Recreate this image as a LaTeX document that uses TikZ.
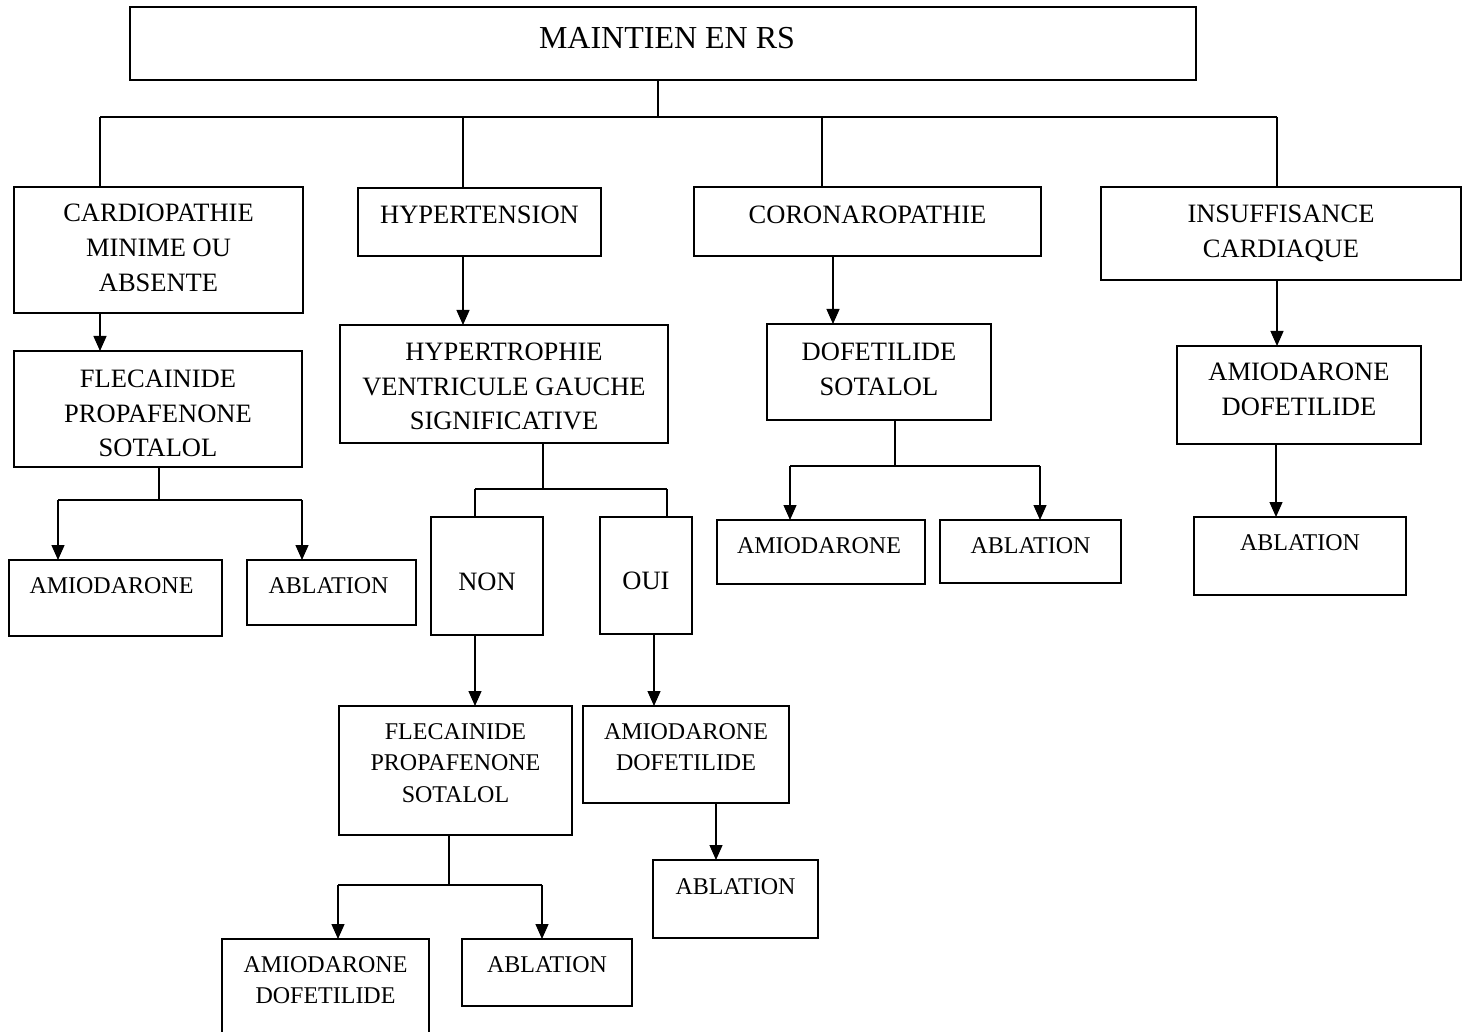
\documentclass[tikz,border=0pt]{standalone}
\usepackage{fontspec}
\setmainfont{Liberation Serif}
\usetikzlibrary{arrows.meta}
\tikzset{
  box/.style={draw, line width=1.3pt, inner sep=0pt, outer sep=0pt, anchor=north west},
  ln/.style={line width=1.3pt},
  arr/.style={line width=1.3pt, -{Triangle[length=15pt,width=13pt]}}
}
% [font size], name, x1, y1, width, height, top-to-first-baseline, text
\newcommand{\bx}[8][26.5]{\node[box, font=\fontsize{#1}{35}\selectfont] (#2) at (#3,#4) {\parbox[t][#6pt][t]{#5pt}{\centering\rule{0pt}{#7pt}#8}};}
\newcommand{\bxs}[7]{\node[box, font=\fontsize{24}{31.5}\selectfont] (#1) at (#2,#3) {\parbox[t][#5pt][t]{#4pt}{\centering\rule{0pt}{#6pt}#7}};}
\begin{document}
\begin{tikzpicture}[x=1pt,y=-1pt]
\fill[white] (0,0) rectangle (1470,1032);
\useasboundingbox (0,0) rectangle (1470,1032);

% top
\node[box, font=\fontsize{32}{35}\selectfont] (top) at (130,7) {\parbox[t][73pt][t]{1066pt}{\centering\hspace*{8pt}\rule{0pt}{42pt}MAINTIEN EN RS}};

% level 1
\bx{c1}{14}{187}{289}{126}{35}{CARDIOPATHIE\\MINIME OU\\ABSENTE}
\bx{hyp}{358}{188}{243}{68}{36}{HYPERTENSION}
\bx{cor}{694}{187}{347}{69}{37}{CORONAROPATHIE}
\bx{ins}{1101}{187}{360}{93}{36}{INSUFFISANCE\\CARDIAQUE}

% column 1
\bx{f1}{14}{351}{288}{116}{36}{FLECAINIDE\\PROPAFENONE\\SOTALOL}
\bx[24]{am1}{9}{560}{213}{76}{33}{\hspace*{-8pt}AMIODARONE}
\bx[24]{ab1}{247}{560}{169}{65}{33}{\hspace*{-6pt}ABLATION}

% column 2
\bx{hvg}{340}{325}{328}{118}{35}{HYPERTROPHIE\\VENTRICULE GAUCHE\\SIGNIFICATIVE}
\bx{non}{431}{517}{112}{118}{73}{NON}
\bx{oui}{600}{517}{92}{117}{72}{OUI}
\bxs{f2}{339}{706}{233}{129}{33}{FLECAINIDE\\PROPAFENONE\\SOTALOL}
\bxs{amd}{583}{706}{206}{97}{33}{AMIODARONE\\DOFETILIDE}
\bx[24]{abm}{653}{860}{165}{78}{34}{ABLATION}
\bxs{am2}{222}{939}{207}{100}{33}{AMIODARONE\\DOFETILIDE}
\bx[24]{ab2}{462}{939}{170}{67}{33}{ABLATION}

% column 3
\bx{ds}{767}{324}{224}{96}{36}{DOFETILIDE\\SOTALOL}
\bx[24]{am3}{717}{520}{208}{64}{33}{\hspace*{-4pt}AMIODARONE}
\bx[24]{ab3}{940}{520}{181}{63}{33}{ABLATION}

% column 4
\bx{am4}{1177}{346}{244}{98}{35}{AMIODARONE\\DOFETILIDE}
\bx[24]{ab4}{1194}{517}{212}{78}{33}{ABLATION}

% ---- connectors ----
\coordinate (j0) at (658,117);
\coordinate (b1) at (100,117);
\coordinate (b2) at (463,117);
\coordinate (b3) at (822,117);
\coordinate (b4) at (1277,117);
\draw[ln] (top.south -| j0) -- (j0);
\draw[ln] (b1) -- (b4);
\draw[ln] (b1) -- (b1 |- c1.north);
\draw[ln] (b2) -- (b2 |- hyp.north);
\draw[ln] (b3) -- (b3 |- cor.north);
\draw[ln] (b4) -- (b4 |- ins.north);

% column 1
\draw[arr] (b1 |- c1.south) -- (b1 |- f1.north);
\coordinate (k1) at (159,500);
\coordinate (k1a) at (58,500);
\coordinate (k1b) at (302,500);
\draw[ln] (k1 |- f1.south) -- (k1);
\draw[ln] (k1a) -- (k1b);
\draw[arr] (k1a) -- (k1a |- am1.north);
\draw[arr] (k1b) -- (k1b |- ab1.north);

% column 2
\draw[arr] (b2 |- hyp.south) -- (b2 |- hvg.north);
\coordinate (k2) at (543,489);
\coordinate (k2a) at (475,489);
\coordinate (k2b) at (667,489);
\draw[ln] (k2 |- hvg.south) -- (k2);
\draw[ln] (k2a) -- (k2b);
\draw[ln] (k2a) -- (k2a |- non.north);
\draw[ln] (k2b) -- (k2b |- oui.north);
\draw[arr] (k2a |- non.south) -- (k2a |- f2.north);
\coordinate (x2) at (654,0);
\draw[arr] (x2 |- oui.south) -- (x2 |- amd.north);
\coordinate (x3) at (716,0);
\draw[arr] (x3 |- amd.south) -- (x3 |- abm.north);
\coordinate (k3) at (449,885);
\coordinate (k3a) at (338,885);
\coordinate (k3b) at (542,885);
\draw[ln] (k3 |- f2.south) -- (k3);
\draw[ln] (k3a) -- (k3b);
\draw[arr] (k3a) -- (k3a |- am2.north);
\draw[arr] (k3b) -- (k3b |- ab2.north);

% column 3
\coordinate (x4) at (833,0);
\draw[arr] (x4 |- cor.south) -- (x4 |- ds.north);
\coordinate (k4) at (895,466);
\coordinate (k4a) at (790,466);
\coordinate (k4b) at (1040,466);
\draw[ln] (k4 |- ds.south) -- (k4);
\draw[ln] (k4a) -- (k4b);
\draw[arr] (k4a) -- (k4a |- am3.north);
\draw[arr] (k4b) -- (k4b |- ab3.north);

% column 4
\draw[arr] (b4 |- ins.south) -- (b4 |- am4.north);
\coordinate (x5) at (1276,0);
\draw[arr] (x5 |- am4.south) -- (x5 |- ab4.north);
\end{tikzpicture}
\end{document}
